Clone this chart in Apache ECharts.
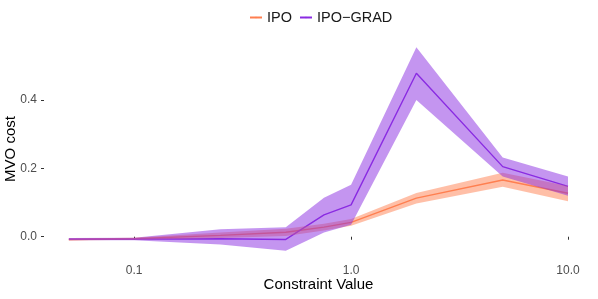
<!DOCTYPE html>
<html>
<head>
<meta charset="utf-8">
<script src="https://cdn.jsdelivr.net/npm/echarts@6/dist/echarts.min.js"></script>
<style>html,body{margin:0;padding:0;background:#fff}#c{width:598px;height:299px}</style>
</head>
<body>
<div id="c"></div>
<script>
const constraintValues = [0.05, 0.1, 0.25, 0.5, 0.75, 1, 2, 5, 10];
const ipoMean  = [-0.008, -0.006, 0.004, 0.013, 0.028, 0.042, 0.113, 0.166, 0.127];
const ipoLower = [-0.011, -0.009, -0.004, 0.002, 0.018, 0.032, 0.097, 0.146, 0.104];
const ipoUpper = [-0.005, -0.003, 0.012, 0.023, 0.038, 0.052, 0.128, 0.187, 0.148];
const gradMean  = [-0.007, -0.007, -0.006, -0.008, 0.064, 0.093, 0.478, 0.205, 0.147];
const gradLower = [-0.010, -0.010, -0.023, -0.041, 0.012, 0.035, 0.400, 0.176, 0.120];
const gradUpper = [-0.004, -0.003, 0.022, 0.028, 0.114, 0.152, 0.554, 0.232, 0.176];
const xTicks = [0.1, 1, 10];
const yTicks = [0, 0.2, 0.4];
const seriesNames = ['IPO', 'IPO\u2212GRAD'];
const colors = ['#FF7F50', '#8A2BE2'];
const bandColors = ['rgba(255,127,80,0.5)', 'rgba(138,43,226,0.5)'];

const pairs = (ys) => constraintValues.map((x, i) => [x, ys[i]]);
const triples = (lo, up) => constraintValues.map((x, i) => [x, lo[i], up[i]]);

function band(name, lo, up, idx) {
  return {
    name: name + ' band', type: 'custom', data: triples(lo, up), z: 3, silent: true,
    encode: { x: 0, y: [1, 2] },
    renderItem: function (params, api) {
      if (params.dataIndexInside !== 0) return null;
      const n = params.dataInsideLength;
      const top = [], bot = [];
      for (let i = 0; i < n; i++) {
        top.push(api.coord([api.value(0, i), api.value(2, i)]));
        bot.push(api.coord([api.value(0, i), api.value(1, i)]));
      }
      const pts = top.concat(bot.reverse());
      return { type: 'polygon', shape: { points: pts }, style: { fill: bandColors[idx], stroke: null } };
    }
  };
}

const chart = echarts.init(document.getElementById('c'), null, { renderer: 'canvas' });
chart.setOption({
  animation: false,
  textStyle: { fontFamily: 'Liberation Sans' },
  legend: {
    data: seriesNames, top: 5, left: 244, itemWidth: 12, itemHeight: 2, itemGap: 7,
    textStyle: { fontSize: 14.5, color: '#1a1a1a', fontFamily: 'Liberation Sans' }
  },
  grid: { left: 44, right: 5, top: 37, bottom: 38, outerBoundsMode: 'none', containLabel: false },
  xAxis: {
    type: 'log', logBase: 10, min: 0.0384, max: 13.04,
    name: 'Constraint Value', nameLocation: 'middle', nameGap: 16, nameMoveOverlap: false,
    nameTextStyle: { fontSize: 15, color: '#000' },
    axisLine: { show: false },
    axisTick: { show: true, length: 3, lineStyle: { color: '#333' }, customValues: xTicks },
    axisLabel: { customValues: xTicks, color: '#4D4D4D', fontSize: 12, margin: 4,
      formatter: v => Number(v).toFixed(1) },
    splitLine: { show: false }
  },
  yAxis: {
    type: 'value', min: -0.071, max: 0.584,
    name: 'MVO cost', nameLocation: 'middle', nameGap: 26, nameRotate: 90, nameMoveOverlap: false,
    nameTextStyle: { fontSize: 15, color: '#000' },
    axisLine: { show: false },
    axisTick: { show: true, length: 3, lineStyle: { color: '#333' }, customValues: yTicks },
    axisLabel: { customValues: yTicks, color: '#4D4D4D', fontSize: 12, margin: 7,
      formatter: v => Number(v).toFixed(1) },
    splitLine: { show: false }
  },
  series: [
    { name: seriesNames[0], type: 'line', data: pairs(ipoMean), symbol: 'none', showSymbol: false,
      itemStyle: { color: colors[0] }, lineStyle: { color: colors[0], width: 1.4 }, z: 2 },
    { name: seriesNames[1], type: 'line', data: pairs(gradMean), symbol: 'none', showSymbol: false,
      itemStyle: { color: colors[1] }, lineStyle: { color: colors[1], width: 1.4 }, z: 2 },
    band('IPO', ipoLower, ipoUpper, 0),
    band('GRAD', gradLower, gradUpper, 1)
  ]
});
</script>
</body>
</html>
